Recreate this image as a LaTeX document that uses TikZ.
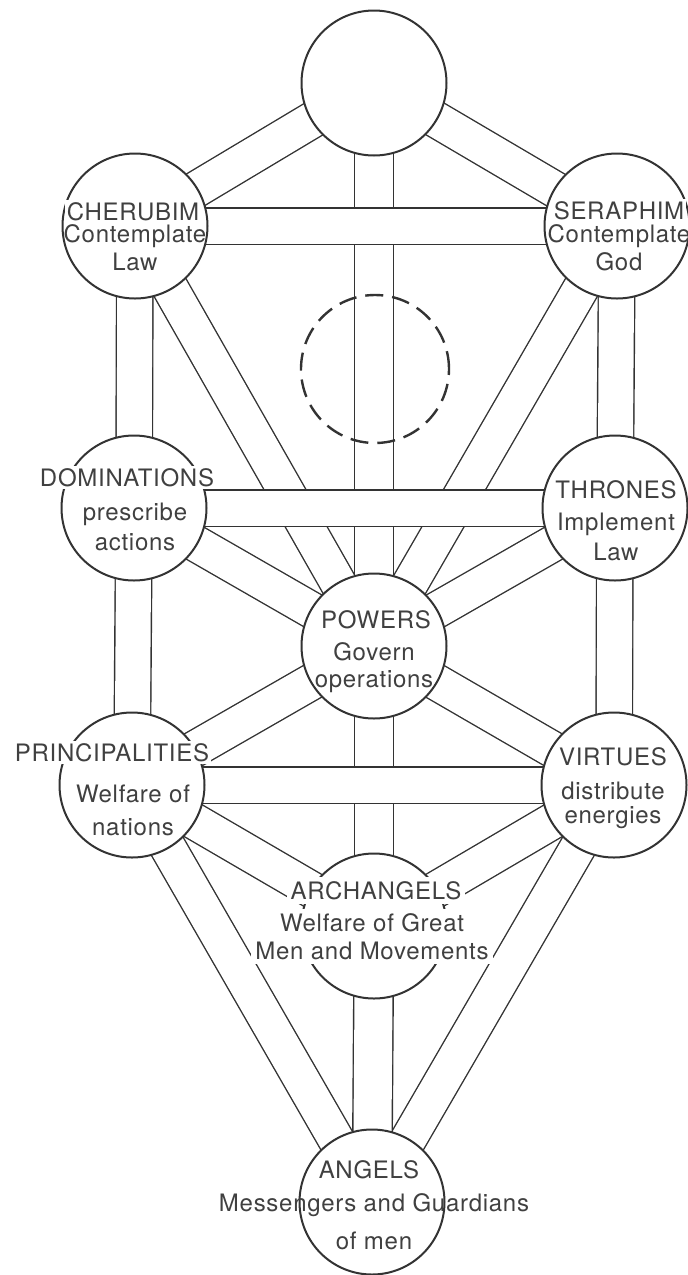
\documentclass[tikz,border=0pt]{standalone}
\usepackage{fontspec}
\setmainfont{TeX Gyre Heros}[LetterSpace=3]
\usepackage{tikz}
\usetikzlibrary{backgrounds}

\begin{document}
\begin{tikzpicture}[
  x=0.5pt, y=-0.5pt,
  font=\fontsize{12}{15}\selectfont,
  sphere/.style={circle, draw=black!80, line width=1pt, fill=white, minimum size=72.5pt, inner sep=0pt},
  veiled/.style={circle, draw=black!80, line width=1.2pt, dash pattern=on 9pt off 4.5pt, minimum size=74pt, inner sep=0pt},
  channel/.style={draw=black!80, line width=0.7pt, double=white, double distance=17.5pt},
  pillar/.style={channel, double distance=19pt},
  rank/.style={text=black!75, fill=white, inner sep=1pt, anchor=north},
  duty/.style={text=black!75, align=center, inner sep=0pt, anchor=north},
  masked/.style={fill=white, inner sep=2pt}
]
\useasboundingbox (0,0) rectangle (688,1275);

% spheres
\node[sphere] (kether)   at (374,83)   {};
\node[sphere] (cherubim) at (135,226)  {};
\node[sphere] (seraphim) at (617,226)  {};
\node[veiled] (daath)    at (375,369)  {};
\node[sphere] (dom)      at (134,508)  {};
\node[sphere] (thrones)  at (615,508)  {};
\node[sphere] (powers)   at (374,646)  {};
\node[sphere] (princ)    at (132,785)  {};
\node[sphere] (virtues)  at (614,785)  {};
\node[sphere] (arch)     at (374,926)  {};
\node[sphere] (angels)   at (372,1202) {};

% paths, kept under the spheres
\begin{scope}[on background layer]
  \foreach \a/\b in {kether/cherubim, kether/seraphim, cherubim/dom, seraphim/thrones,
                     cherubim/powers, seraphim/powers, dom/powers, thrones/powers,
                     dom/princ, thrones/virtues, powers/princ, powers/virtues,
                     princ/arch, virtues/arch, princ/angels, virtues/angels}
    \draw[channel] (\a.center) -- (\b.center);
  \draw[pillar] (kether.center) -- (powers.center);
  \draw[pillar] (powers.center) -- (arch.center);
  \draw[pillar] (arch.center) -- (angels.center);
  % crossbars lie over the rest
  \foreach \a/\b in {cherubim/seraphim, dom/thrones, princ/virtues}
    \draw[channel] (\a.center) -- (\b.center);
\end{scope}

% names of the orders
\node[rank] (cherubimT) at (133,200)  {CHERUBIM};
\node[duty] (cherubimD) at (135,224)  {Contemplate\\[-1pt]Law};
\node[rank] (seraphimT) at (619,199)  {SERAPHIM};
\node[duty] (seraphimD) at (619,224)  {Contemplate\\[-1pt]God};
\node[rank] (domT)      at (127,466)  {DOMINATIONS};
\node[duty] (domD)      at (135,503)  {prescribe\\actions};
\node[rank] (thronesT)  at (616,478)  {THRONES};
\node[duty] (thronesD)  at (616,513)  {Implement\\Law};
\node[rank] (powersT)   at (376,608)  {POWERS};
\node[duty] (powersD)   at (374,642)  {Govern\\[-1.5pt]operations};
\node[rank] (princT)    at (112,741)  {PRINCIPALITIES};
\node[duty] (princD)    at (133,785)  {Welfare of\\[1.5pt]nations};
\node[rank] (virtuesT)  at (613,745)  {VIRTUES};
\node[duty] (virtuesD)  at (613,782)  {distribute\\[-3pt]energies};
\node[rank, masked] (archT) at (376,877) {ARCHANGELS};
\node[duty, masked] (archD) at (372,909) {Welfare of Great\\[-1pt]Men and Movements};
\node[rank] (angelsT)   at (369,1158) {ANGELS};
\node[duty] (angelsD)   at (374,1193) {Messengers and Guardians\\[4pt]of men};
\end{tikzpicture}
\end{document}
